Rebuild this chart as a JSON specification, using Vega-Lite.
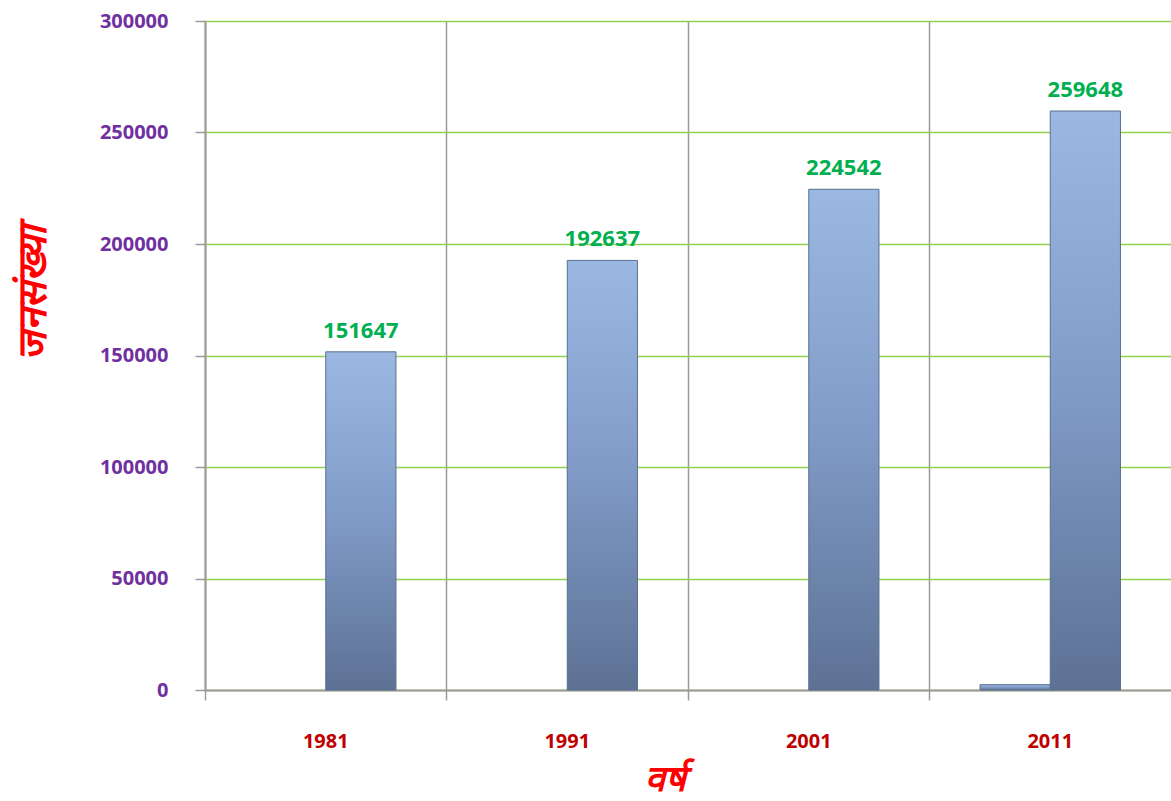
{
  "$schema": "https://vega.github.io/schema/vega-lite/v6.json",
  "width": 966,
  "height": 669,
  "autosize": "none",
  "padding": {"left": 205, "top": 21, "right": 0, "bottom": 111},
  "background": "white",
  "config": {"view": {"stroke": null}, "font": "Open Sans"},
  "data": {
    "values": [
      {"year": "1981", "series": "a", "value": 0},
      {"year": "1981", "series": "b", "value": 151647},
      {"year": "1991", "series": "a", "value": 0},
      {"year": "1991", "series": "b", "value": 192637},
      {"year": "2001", "series": "a", "value": 0},
      {"year": "2001", "series": "b", "value": 224542},
      {"year": "2011", "series": "a", "value": 2400},
      {"year": "2011", "series": "b", "value": 259648}
    ]
  },
  "encoding": {
    "x": {
      "field": "year", "type": "nominal",
      "scale": {"paddingInner": 0, "paddingOuter": 0},
      "axis": {
        "title": "वर्ष",
        "titleColor": "#FF0000", "titleFontSize": 36, "titleFontWeight": "bold", "titleFontStyle": "italic",
        "titleX": 460, "titleY": 108, "titleBaseline": "bottom",
        "labelAngle": 0, "labelColor": "#C00000", "labelFontSize": 20, "labelFontWeight": "bold",
        "labelPadding": 31,
        "bandPosition": 0, "grid": true, "gridColor": "#9a9a9a", "gridWidth": 1.5,
        "domainColor": "#9a9a9a", "domainWidth": 2,
        "tickColor": "#9a9a9a", "tickSize": 10, "tickWidth": 1.5
      }
    },
    "xOffset": {"field": "series", "type": "nominal", "scale": {"domain": ["a", "b"], "paddingInner": 0, "paddingOuter": 0.72}},
    "y": {
      "field": "value", "type": "quantitative",
      "scale": {"domain": [0, 300000], "nice": false},
      "axis": {
        "values": [0, 50000, 100000, 150000, 200000, 250000, 300000],
        "format": "d",
        "title": "जनसंख्या",
        "titleColor": "#FF0000", "titleFontSize": 40, "titleFontWeight": "bold", "titleFontStyle": "italic",
        "titleX": -172, "titleY": 272, "titleBaseline": "middle",
        "labelColor": "#7030A0", "labelFontSize": 20, "labelFontWeight": "bold", "labelPadding": 27,
        "grid": true, "gridColor": "#92D050", "gridWidth": 1.5,
        "domainColor": "#9a9a9a", "domainWidth": 2,
        "tickColor": "#9a9a9a", "tickSize": 10, "tickWidth": 1.5
      }
    }
  },
  "layer": [
    {
      "transform": [{"filter": "datum.value > 0"}],
      "mark": {
        "type": "bar",
        "stroke": "#5a6f90",
        "strokeWidth": 1,
        "color": {
          "gradient": "linear", "x1": 0, "y1": 0, "x2": 0, "y2": 1,
          "stops": [
            {"offset": 0, "color": "#9bb8e3"},
            {"offset": 0.5, "color": "#7f9ac6"},
            {"offset": 1, "color": "#5d7194"}
          ]
        }
      }
    },
    {
      "transform": [{"filter": "datum.series === 'b'"}],
      "mark": {"type": "text", "baseline": "bottom", "dy": -9, "fontSize": 22, "fontWeight": "bold", "color": "#00B050"},
      "encoding": {"text": {"field": "value", "type": "quantitative", "format": "d"}}
    }
  ]
}
